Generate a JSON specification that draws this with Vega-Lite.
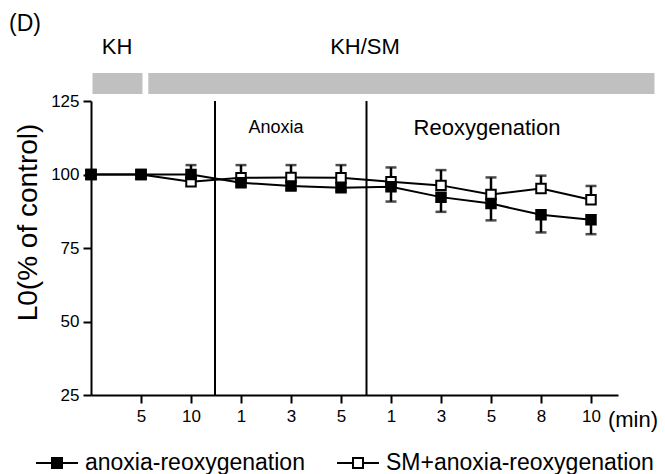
{
  "$schema": "https://vega.github.io/schema/vega-lite/v6.json",
  "width": 527,
  "height": 294,
  "autosize": "none",
  "padding": {"left": 91, "top": 101, "right": 47, "bottom": 79},
  "background": "white",
  "config": {
    "view": {"stroke": null},
    "font": "Liberation Sans"
  },
  "datasets": {
    "series": [
      {"t": 0, "group": "SM+anoxia-reoxygenation", "v": 100, "cap": 100},
      {"t": 1, "group": "SM+anoxia-reoxygenation", "v": 100, "cap": 100},
      {"t": 2, "group": "SM+anoxia-reoxygenation", "v": 97.5, "cap": 103.2},
      {"t": 3, "group": "SM+anoxia-reoxygenation", "v": 98.9, "cap": 103.2},
      {"t": 4, "group": "SM+anoxia-reoxygenation", "v": 99.0, "cap": 103.2},
      {"t": 5, "group": "SM+anoxia-reoxygenation", "v": 98.9, "cap": 103.2},
      {"t": 6, "group": "SM+anoxia-reoxygenation", "v": 97.5, "cap": 102.4},
      {"t": 7, "group": "SM+anoxia-reoxygenation", "v": 96.3, "cap": 101.5},
      {"t": 8, "group": "SM+anoxia-reoxygenation", "v": 93.2, "cap": 99.0},
      {"t": 9, "group": "SM+anoxia-reoxygenation", "v": 95.2, "cap": 99.6},
      {"t": 10, "group": "SM+anoxia-reoxygenation", "v": 91.4, "cap": 96.1},
      {"t": 0, "group": "anoxia-reoxygenation", "v": 100, "cap": 100},
      {"t": 1, "group": "anoxia-reoxygenation", "v": 100, "cap": 100},
      {"t": 2, "group": "anoxia-reoxygenation", "v": 100, "cap": 99},
      {"t": 3, "group": "anoxia-reoxygenation", "v": 97.2, "cap": 96},
      {"t": 4, "group": "anoxia-reoxygenation", "v": 96.1, "cap": 95},
      {"t": 5, "group": "anoxia-reoxygenation", "v": 95.5, "cap": 94.5},
      {"t": 6, "group": "anoxia-reoxygenation", "v": 95.8, "cap": 90.8},
      {"t": 7, "group": "anoxia-reoxygenation", "v": 92.3, "cap": 87.3},
      {"t": 8, "group": "anoxia-reoxygenation", "v": 90.1, "cap": 84.4},
      {"t": 9, "group": "anoxia-reoxygenation", "v": 86.3, "cap": 80.3},
      {"t": 10, "group": "anoxia-reoxygenation", "v": 84.6, "cap": 79.7}
    ],
    "phases": [
      {"phase": "KH", "start": 0.03, "end": 1.03},
      {"phase": "KH/SM", "start": 1.146, "end": 11.27}
    ],
    "one": [{"k": 1}]
  },
  "data": {"name": "series"},
  "layer": [
    {
      "data": {"name": "phases"},
      "mark": {"type": "rect", "color": "#c0c0c0"},
      "encoding": {
        "x": {"field": "start", "type": "quantitative", "scale": {"domain": [0, 10.54], "nice": false, "zero": false},
          "axis": {
            "values": [1, 2, 3, 4, 5, 6, 7, 8, 9, 10],
            "labelExpr": "['','5','10','1','3','5','1','3','5','8','10'][datum.value]",
            "title": null, "grid": false,
            "domainColor": "black", "domainWidth": 2,
            "tickColor": "black", "tickWidth": 2, "tickSize": 8,
            "labelFontSize": 17, "labelColor": "black", "labelPadding": 5,
            "labelFont": "Liberation Sans", "labelFlush": false, "labelOverlap": false
          }},
        "x2": {"field": "end"},
        "y": {"datum": 134.5, "type": "quantitative", "scale": {"domain": [25, 125], "nice": false, "zero": false},
          "axis": {
            "values": [25, 50, 75, 100, 125],
            "title": "L0(% of control)", "grid": false,
            "titleFont": "Liberation Sans", "titleFontSize": 28, "titleFontWeight": "normal", "titleColor": "black", "titlePadding": 8,
            "titleY": 121,
            "domainColor": "black", "domainWidth": 2,
            "tickColor": "black", "tickWidth": 2, "tickSize": 8,
            "labelFontSize": 17, "labelColor": "black", "labelPadding": 4,
            "labelFont": "Liberation Sans", "labelFlush": false
          }},
        "y2": {"datum": 127.4}
      }
    },
    {
      "data": {"name": "one"},
      "mark": {"type": "rule", "color": "black", "strokeWidth": 2},
      "encoding": {"x": {"datum": 2.48}, "y": {"datum": 25}, "y2": {"datum": 125}}
    },
    {
      "data": {"name": "one"},
      "mark": {"type": "rule", "color": "black", "strokeWidth": 2},
      "encoding": {"x": {"datum": 5.51}, "y": {"datum": 25}, "y2": {"datum": 125}}
    },
    {
      "data": {"name": "one"},
      "mark": {"type": "text", "fontSize": 23, "fill": "black", "font": "Liberation Sans", "align": "center", "baseline": "middle"},
      "encoding": {"x": {"datum": -1.32}, "y": {"datum": 151.2}, "text": {"value": "(D)"}}
    },
    {
      "data": {"name": "one"},
      "mark": {"type": "text", "fontSize": 22, "fill": "black", "font": "Liberation Sans", "align": "center", "baseline": "middle"},
      "encoding": {"x": {"datum": 0.52}, "y": {"datum": 143.4}, "text": {"value": "KH"}}
    },
    {
      "data": {"name": "one"},
      "mark": {"type": "text", "fontSize": 22, "fill": "black", "font": "Liberation Sans", "align": "center", "baseline": "middle"},
      "encoding": {"x": {"datum": 5.48}, "y": {"datum": 143.4}, "text": {"value": "KH/SM"}}
    },
    {
      "data": {"name": "one"},
      "mark": {"type": "text", "fontSize": 18, "fill": "black", "font": "Liberation Sans", "align": "center", "baseline": "middle"},
      "encoding": {"x": {"datum": 3.7}, "y": {"datum": 115.8}, "text": {"value": "Anoxia"}}
    },
    {
      "data": {"name": "one"},
      "mark": {"type": "text", "fontSize": 22, "fill": "black", "font": "Liberation Sans", "align": "center", "baseline": "middle"},
      "encoding": {"x": {"datum": 7.92}, "y": {"datum": 115.8}, "text": {"value": "Reoxygenation"}}
    },
    {
      "data": {"name": "one"},
      "mark": {"type": "text", "fontSize": 22, "fill": "black", "font": "Liberation Sans", "align": "center", "baseline": "middle"},
      "encoding": {"x": {"datum": 10.84}, "y": {"datum": 16.5}, "text": {"value": "(min)"}}
    },
    {
      "mark": {"type": "line", "color": "black", "strokeWidth": 2},
      "encoding": {
        "x": {"field": "t", "type": "quantitative"},
        "y": {"field": "v", "type": "quantitative"},
        "detail": {"field": "group"}
      }
    },
    {
      "mark": {"type": "rule", "color": "black", "strokeWidth": 2.5},
      "encoding": {
        "x": {"field": "t", "type": "quantitative"},
        "y": {"field": "v", "type": "quantitative"},
        "y2": {"field": "cap"}
      }
    },
    {
      "mark": {"type": "tick", "color": "black", "orient": "horizontal", "size": 11, "thickness": 2.5},
      "encoding": {
        "x": {"field": "t", "type": "quantitative"},
        "y": {"field": "cap", "type": "quantitative"}
      }
    },
    {
      "mark": {"type": "square", "size": 90, "stroke": "black", "strokeWidth": 2, "opacity": 1},
      "encoding": {
        "x": {"field": "t", "type": "quantitative"},
        "y": {"field": "v", "type": "quantitative"},
        "fill": {
          "field": "group", "type": "nominal",
          "scale": {"domain": ["anoxia-reoxygenation", "SM+anoxia-reoxygenation"], "range": ["black", "white"]},
          "legend": {
            "orient": "none", "legendX": -56, "legendY": 340, "direction": "horizontal", "title": null,
            "symbolType": "M-1,0H-0.238M0.238,0H1M-0.238,-0.238H0.238V0.238H-0.238Z",
            "symbolSize": 1764, "symbolStrokeColor": "black", "symbolStrokeWidth": 2, "symbolOpacity": 1,
            "labelFont": "Liberation Sans", "labelFontSize": 23, "labelColor": "black", "labelOffset": 6,
            "columnPadding": 28, "labelLimit": 400,
            "encode": {"symbols": {"update": {"shape": {"value": "M-1,0H-0.238M0.238,0H1M-0.238,-0.238H0.238V0.238H-0.238Z"}, "size": {"value": 1764}, "stroke": {"value": "black"}, "strokeWidth": {"value": 2}}}}
          }
        }
      }
    }
  ]
}
